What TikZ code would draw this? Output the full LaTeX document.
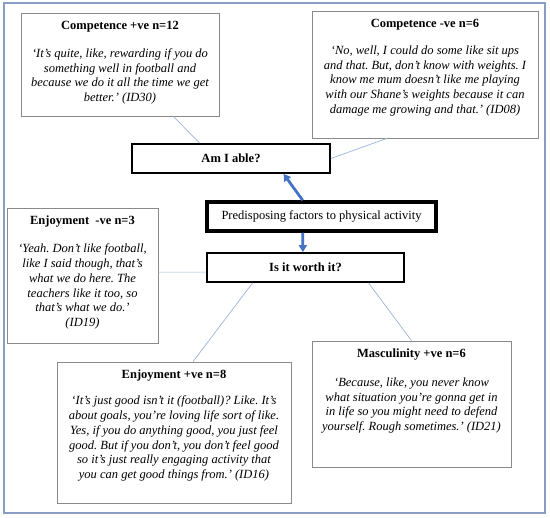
\documentclass[tikz,border=0pt]{standalone}
\usepackage{fontspec}
\setmainfont{Liberation Serif}
\usetikzlibrary{arrows.meta,calc}
\definecolor{framec}{HTML}{8A9EC4}
\definecolor{linkc}{HTML}{9DB3D9}
\definecolor{arrc}{HTML}{4472C4}
\definecolor{qboxc}{HTML}{8A8A8A}
\tikzset{
  qbox/.style={draw=qboxc, line width=0.8pt, fill=white, inner sep=0pt},
  qtext/.style={anchor=north, align=center, inner sep=0pt, font=\fontsize{12.5}{14.8}\selectfont},
  cbox/.style={draw=black, line width=1.8pt, fill=white, inner sep=0pt, minimum height=29pt,
    font=\fontsize{12.5}{14.8}\selectfont\bfseries},
  pbox/.style={draw=black, line width=3.5pt, fill=white, inner sep=0pt, minimum height=29pt,
    font=\fontsize{12.5}{14.8}\selectfont},
  link/.style={draw=linkc, line width=0.7pt},
  barrow/.style={draw=arrc, line width=2.8pt, -{Triangle[length=7pt,width=8pt]}},
}
\frenchspacing
\begin{document}
\frenchspacing
\begin{tikzpicture}[x=1pt,y=-1pt]
\useasboundingbox (0,0) rectangle (550,518);
\draw[framec, line width=1.5pt] (4,3) rectangle (545,513);

% quote boxes
\node[qbox, minimum width=198pt, minimum height=103pt] (cp) at (120,64.5) {};
\node[qbox, minimum width=226pt, minimum height=127pt] (cn) at (425,74.5) {};
\node[qbox, minimum width=151pt, minimum height=135pt] (en) at (82.5,275.5) {};
\node[qbox, minimum width=234pt, minimum height=141pt] (ep) at (174,432.5) {};
\node[qbox, minimum width=199pt, minimum height=126pt] (ma) at (411.5,404) {};

% central boxes
\node[cbox, minimum width=198pt] (able) at (231,158.5) {Am I able?};
\node[pbox, minimum width=229pt] (pre) at (321.5,216.5) {Predisposing factors to physical activity};
\node[cbox, minimum width=197pt] (worth) at (305.5,267.5) {Is it worth it?};

% texts
\node[qtext] (cpt) at ([yshift=-8pt]cp.north) {\textbf{Competence +ve n=12}\\[13.5pt]
\itshape ‘It’s quite, like, rewarding if you do\\
\itshape something well in football and\\
\itshape because we do it all the time we get\\
\itshape better.’ (ID30)};

\node[qtext] (cnt) at ([yshift=-8pt]cn.north) {\textbf{Competence -ve n=6}\\[12.5pt]
\itshape ‘No, well, I could do some like sit ups\\
\itshape and that. But, don’t know with weights. I\\
\itshape know me mum doesn’t like me playing\\
\itshape with our Shane’s weights because it can\\
\itshape damage me growing and that.’ (ID08)};

\node[qtext] (ent) at ([yshift=-8pt]en.north) {\textbf{Enjoyment\ \ -ve n=3}\\[13.5pt]
\itshape ‘Yeah. Don’t like football,\\
\itshape like I said though, that’s\\
\itshape what we do here. The\\
\itshape teachers like it too, so\\
\itshape that’s what we do.’\\
\itshape (ID19)};

\node[qtext] (ept) at ([yshift=-8pt]ep.north) {\textbf{Enjoyment +ve n=8}\\[11.5pt]
\itshape ‘It’s just good isn’t it (football)? Like. It’s\\
\itshape about goals, you’re loving life sort of like.\\
\itshape Yes, if you do anything good, you just feel\\
\itshape good. But if you don’t, you don’t feel good\\
\itshape so it’s just really engaging activity that\\
\itshape you can get good things from.’ (ID16)};

\node[qtext] (mat) at ([yshift=-8pt]ma.north) {\textbf{Masculinity +ve n=6}\\[14pt]
\itshape ‘Because, like, you never know\\
\itshape what situation you’re gonna get in\\
\itshape in life so you might need to defend\\
\itshape yourself. Rough sometimes.’ (ID21)};

% connectors
\draw[link] ($(cp.south west)!0.768!(cp.south east)$) -- ($(able.north west)!0.343!(able.north east)$);
\draw[link] ($(cn.south west)!0.332!(cn.south east)$) -- (able.east);
\draw[link] ($(en.north east)!0.475!(en.south east)$) -- ($(worth.north west)!0.65!(worth.south west)$);
\draw[link] ($(worth.south west)!0.234!(worth.south east)$) -- ($(ep.north west)!0.581!(ep.north east)$);
\draw[link] ($(worth.south west)!0.817!(worth.south east)$) -- (ma.north);

% arrows
\draw[barrow] ($(pre.north west)!0.419!(pre.north east)$) -- ($(able.south west)!0.763!(able.south east)$);
\draw[barrow] ($(pre.south west)!0.419!(pre.south east)$) -- ($(worth.north west)!0.487!(worth.north east)$);
\end{tikzpicture}
\end{document}
